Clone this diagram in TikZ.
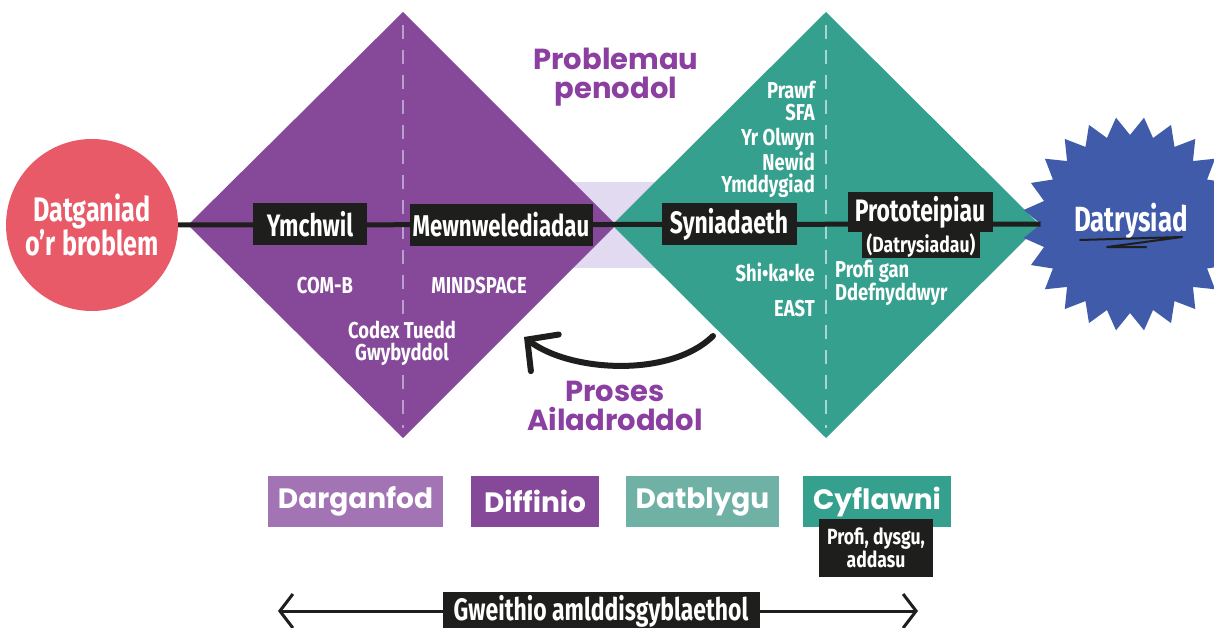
\documentclass[tikz,border=0pt]{standalone}
\usepackage{fontspec}
\usetikzlibrary{shapes.geometric,arrows.meta}
\newfontfamily\cnd[FakeStretch=0.74]{Fira Sans}
\newfontfamily\cndw[FakeStretch=0.8]{Fira Sans}
\newfontfamily\pop{Poppins}
\definecolor{purp}{HTML}{86499A}
\definecolor{teal2}{HTML}{36A08E}
\definecolor{coral}{HTML}{E85A68}
\definecolor{starblue}{HTML}{3F5BA9}
\definecolor{lav}{HTML}{E2DAF0}
\definecolor{blk}{HTML}{1E1E1C}
\definecolor{purpdash}{HTML}{B9A0CC}
\definecolor{tealdash}{HTML}{A9D6CE}
\definecolor{lpurp}{HTML}{A274B4}
\definecolor{lteal}{HTML}{6FB1A5}
\definecolor{ptext}{HTML}{8B3FA0}
\tikzset{
  lbl/.style={fill=blk, text=white, inner sep=0pt, minimum height=42pt,
    font=\cnd\bfseries\fontsize{31}{33}\selectfont},
  lblsmall/.style={fill=blk, text=white, inner sep=0pt, align=center,
    font=\cndw\bfseries\fontsize{22}{23}\selectfont},
  wt/.style={text=white, inner sep=1pt,
    font=\cndw\bfseries\fontsize{23}{22}\selectfont},
  ph/.style={text=ptext, align=center, inner sep=0pt,
    font=\pop\bfseries\fontsize{29}{29}\selectfont},
  bb/.style={text=white, inner sep=0pt, minimum height=51pt,
    font=\pop\bfseries\fontsize{28}{30}\selectfont},
  dashline/.style={line width=2.5pt, dash pattern=on 14pt off 11pt},
}
\begin{document}
\begin{tikzpicture}[x=1pt,y=-1pt]
\useasboundingbox (0,0) rectangle (1214,628);
\fill[white] (0,0) rectangle (1214,628);
% light band between diamonds
\fill[lav] (567,182) rectangle (655,268);
% diamonds
\fill[purp] (188,225) -- (403,12) -- (616,225) -- (403,438) -- cycle;
\fill[teal2] (612,225) -- (826,12) -- (1040,225) -- (826,438) -- cycle;
\draw[purpdash, dashline] (403,25) -- (403,428);
\draw[tealdash, dashline] (826,25) -- (826,428);
% end nodes
\node[circle, fill=coral, minimum size=172pt, inner sep=0pt, text=white, align=center,
  font=\cnd\bfseries\fontsize{34}{32}\selectfont] (prob) at (92,225) {Datganiad\\o’r broblem};
\node[star, star points=24, star point ratio=0.83, fill=starblue, minimum size=178pt,
  inner sep=0pt] (sol) at (1130,224) {};
\node[text=white, inner sep=0pt, font=\cnd\bfseries\fontsize{35}{36}\selectfont] (soltxt) at (1131,221) {Datrysiad};
\draw[blk, line width=2pt, line cap=round, line join=round]
  (1080,240) -- (1182,237) -- (1130,244) -- (1107,247) -- (1146,247);
% main line
\draw[blk, line width=5pt] (prob.east) -- (sol.west);
% stage labels
\node[lbl, minimum width=114pt] (ymch) at (310,224) {Ymchwil};
\node[lbl, minimum width=183pt, font=\cnd\bfseries\fontsize{30}{32}\selectfont] (mewn) at (501,225) {Mewnwelediadau};
\node[lbl, minimum width=135pt] (syn) at (729,224) {Syniadaeth};
\node[lbl, minimum width=145pt, minimum height=40pt] (proto) at (920,212) {Prototeipiau};
\node[lblsmall, minimum width=118pt, minimum height=26pt] (datr) at (921,245) {(Datrysiadau)};
% white texts
\node[wt] (comb) at (325,286) {COM-B};
\node[wt] (mind) at (479,286) {MINDSPACE};
\node[wt, fill=purp, align=center] (codex) at (402,343) {Codex Tuedd\\Gwybyddol};
\node[wt, anchor=east, align=right] (prawf) at (816,101) {Prawf\\SFA};
\node[wt, anchor=east, align=right] (olwyn) at (816,163) {Yr Olwyn\\Newid\\Ymddygiad};
\node[wt, anchor=east] (shi) at (816,272) {Shi•ka•ke};
\node[wt, anchor=east] (east) at (816,309) {EAST};
\node[wt, anchor=west, align=left] (profi) at (834,283) {Profi gan\\Ddefnyddwyr};
% purple headings
\node[ph] (probl) at (616,77) {Problemau\\penodol};
\node[ph] (proses) at (615,406) {Proses\\Ailadroddol};
% iterative arrow
\coordinate (arrS) at (713,336);
\coordinate (arrE) at (524,337);
\draw[blk, line width=6pt, line cap=round,
  -{Straight Barb[length=22pt,width=46pt,line cap=round]}]
  (arrS) .. controls (670,378) and (570,372) .. (arrE);
% bottom phase boxes
\node[bb, fill=lpurp, minimum width=175pt] (darg) at (355.5,501.5) {Darganfod};
\node[bb, fill=purp, minimum width=128pt] (diff) at (535,501.5) {Diffinio};
\node[bb, fill=lteal, minimum width=153pt] (datb) at (702.5,501.5) {Datblygu};
\node[bb, fill=teal2, minimum width=148pt] (cyfl) at (877,501.5) {Cyflawni};
\node[lblsmall, minimum width=114pt, minimum height=58pt] (pda) at (876,548) {Profi, dysgu,\\addasu};
% bottom arrow
\coordinate (bl) at (278,611);
\coordinate (br) at (918,611);
\draw[blk, line width=3pt,
  {Straight Barb[length=13pt,width=34pt]}-{Straight Barb[length=13pt,width=34pt]}] (bl) -- (br);
\node[lbl, minimum width=317pt, minimum height=38pt, font=\cnd\bfseries\fontsize{31}{33}\selectfont] (gw) at (601,611) {Gweithio amlddisgyblaethol};
\end{tikzpicture}
\end{document}
